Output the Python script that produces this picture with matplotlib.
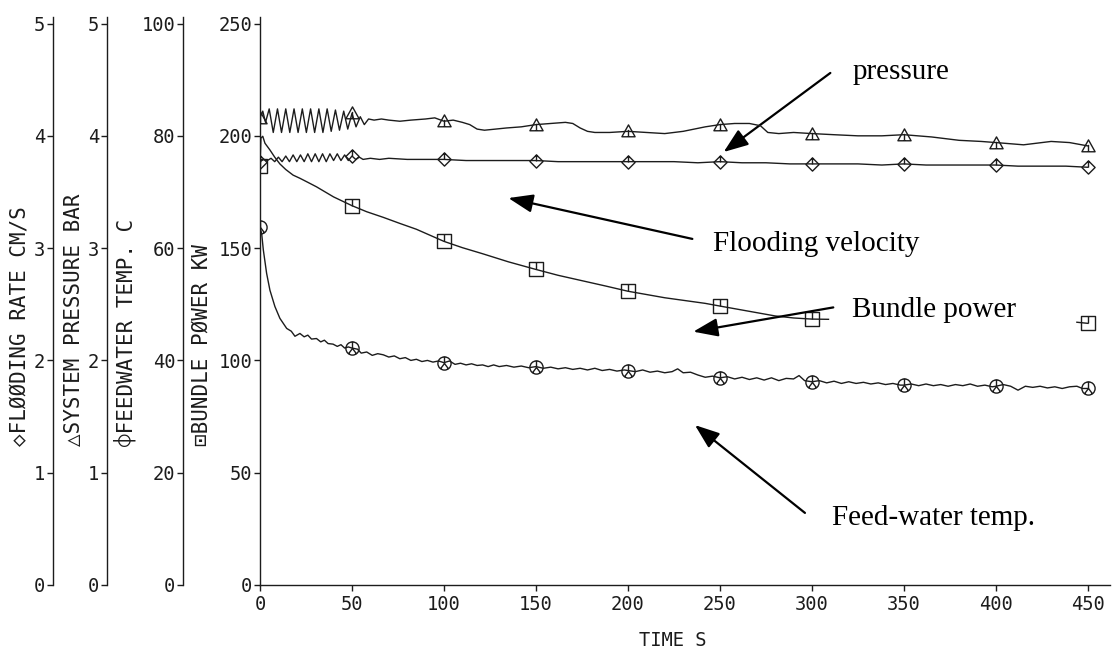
import numpy as np
import matplotlib
matplotlib.use("Agg")
import matplotlib.pyplot as plt
from matplotlib.path import Path

# ---------------- data ----------------
time_ticks = [0, 50, 100, 150, 200, 250, 300, 350, 400, 450]
power_ticks = [0, 50, 100, 150, 200, 250]
temp_ticks = [0, 20, 40, 60, 80, 100]
pressure_ticks = [0, 1, 2, 3, 4, 5]
flood_ticks = [0, 1, 2, 3, 4, 5]

# system pressure, bar
press_t = [0, 1.5, 3, 5, 7.2, 9.5, 11.7, 14, 16.2, 18.5,
           20.7, 23, 25.2, 27.5, 29.7, 32, 34.2, 36.5, 38.7, 41,
           43.2, 45.5, 47.7, 50, 52.2, 54.5, 56.7, 59, 62, 66,
           70, 76, 82, 90, 95, 100, 105, 110, 114, 118,
           122, 128, 134, 142, 150, 158, 166, 170, 174, 178,
           182, 190, 200, 210, 220, 230, 242, 250, 258, 266,
           272, 276, 282, 290, 300, 312, 325, 338, 350, 365,
           380, 392, 400, 415, 430, 440, 450]
press_bar = [4.16, 4.22, 4.12, 4.24, 4.03, 4.24, 4.03, 4.24, 4.03, 4.24,
             4.03, 4.24, 4.03, 4.24, 4.03, 4.24, 4.03, 4.24, 4.04, 4.23,
             4.05, 4.22, 4.06, 4.20, 4.08, 4.17, 4.10, 4.15, 4.14, 4.15,
             4.14, 4.13, 4.14, 4.15, 4.16, 4.13, 4.14, 4.12, 4.10, 4.06,
             4.05, 4.06, 4.07, 4.08, 4.10, 4.11, 4.12, 4.11, 4.07, 4.04,
             4.03, 4.03, 4.04, 4.03, 4.02, 4.04, 4.08, 4.10, 4.11, 4.11,
             4.09, 4.03, 4.02, 4.03, 4.02, 4.01, 4.00, 4.00, 4.01, 3.99,
             3.96, 3.95, 3.94, 3.92, 3.95, 3.94, 3.91]

# flooding rate, cm/s
flood_t = [0, 2, 4, 6, 8, 10, 12, 14, 16, 18,
           20, 22, 24, 26, 28, 30, 32, 34, 36, 38,
           40, 42, 44, 46, 48, 50, 52, 54, 56,
           60, 65, 70, 80, 90, 100,
           112, 125, 138, 150, 162, 175, 188, 200, 212, 225,
           238, 250, 262, 275, 288, 300, 312, 325, 338, 350,
           362, 375, 388, 400, 412, 425, 438, 450]
flood_cms = [3.77, 3.79, 3.78, 3.80, 3.77, 3.81, 3.77, 3.82, 3.77, 3.83,
             3.77, 3.83, 3.77, 3.84, 3.77, 3.84, 3.77, 3.84, 3.77, 3.84,
             3.78, 3.84, 3.78, 3.83, 3.78, 3.82, 3.79, 3.81, 3.79,
             3.80, 3.79, 3.80, 3.79, 3.79, 3.79,
             3.78, 3.78, 3.78, 3.78, 3.77, 3.77, 3.77, 3.77, 3.77, 3.77,
             3.76, 3.77, 3.76, 3.76, 3.75, 3.75, 3.75, 3.75, 3.74, 3.75,
             3.74, 3.74, 3.74, 3.74, 3.73, 3.73, 3.73, 3.72]

# feedwater temperature, C
temp_t = [0, 0.9, 1.8, 3.6, 5.4, 8.1, 10.8, 14.5, 17, 19,
          21.7, 24, 26, 28, 30.7, 33, 35, 37, 39.7, 42,
          44, 46, 48, 50, 53, 55, 58, 61, 64, 67,
          70, 73, 76, 79, 82, 85, 88, 91, 94, 97,
          100, 103, 106, 109, 112, 115, 118, 121, 124, 127,
          130, 134, 138, 142, 146, 150, 154, 158, 162, 166,
          170, 174, 178, 182, 186, 190, 194, 198, 200, 204,
          208, 212, 216, 220, 224, 227, 230, 234, 238, 242,
          246, 250, 254, 258, 262, 266, 270, 274, 278, 282,
          286, 290, 293, 296, 300, 304, 308, 312, 316, 320,
          324, 328, 332, 336, 340, 344, 348, 350, 354, 358,
          362, 366, 370, 374, 378, 382, 386, 390, 394, 398,
          400, 404, 408, 412, 416, 420, 424, 428, 432, 436,
          440, 444, 447, 450]
temp_c = [63.7, 62.6, 59.7, 55.5, 52.5, 49.6, 47.5, 45.7, 45.2, 44.3,
          44.8, 44.2, 44.5, 43.8, 43.9, 43.3, 43.6, 43.0, 42.9, 42.5,
          42.8, 42.2, 42.4, 42.2, 42.0, 41.3, 41.5, 40.9, 41.2, 41.0,
          40.6, 40.8, 40.3, 40.5, 40.0, 40.2, 39.8, 40.0, 39.7, 39.9,
          39.6, 39.9, 39.3, 39.5, 39.2, 39.4, 39.1, 39.2, 38.9, 39.2,
          38.9, 39.1, 38.8, 39.0, 38.7, 38.9, 38.6, 38.8, 38.5, 38.7,
          38.4, 38.6, 38.3, 38.6, 38.2, 38.4, 38.1, 38.3, 38.2, 38.0,
          38.3, 37.9, 38.1, 37.8, 38.0, 38.5, 37.8, 37.9, 37.4, 37.0,
          37.2, 36.9, 37.1, 36.7, 37.0, 36.6, 36.9, 36.5, 36.9, 36.4,
          36.8, 36.7, 37.3, 36.4, 36.2, 36.4, 36.0, 36.3, 35.9, 36.2,
          35.9, 36.1, 35.8, 36.0, 35.7, 35.9, 35.6, 35.6, 35.8, 35.5,
          35.8, 35.5, 35.7, 35.4, 35.7, 35.5, 35.8, 35.4, 35.6, 35.3,
          35.4, 35.7, 35.4, 34.7, 35.4, 35.2, 35.4, 35.1, 35.3, 35.0,
          35.3, 35.4, 35.0, 35.0]

# bundle power, kW (trace interrupted after ~310 s)
power_t = [0, 0.5, 1.5, 2.7, 5.4, 8, 10.8, 14, 18, 21.7,
           26, 30.7, 40, 50, 58, 67, 76, 85, 100, 110,
           121, 135, 150, 162, 175, 188, 200, 220, 242, 250,
           265, 280, 290, 300, 309, 320, 444, 450]
power_kw = [186.6, 199.0, 199.8, 196.7, 193.7, 190.5, 187.5, 185.0, 182.5, 181.1,
            179.3, 177.3, 172.8, 168.9, 166.2, 163.7, 161.0, 158.4, 153.0, 150.2,
            147.5, 143.9, 140.5, 137.9, 135.5, 133.1, 130.8, 127.9, 125.4, 124.2,
            122.0, 119.8, 118.9, 118.4, 118.3, np.nan, 117.0, 116.5]

# ---------------- styling ----------------
W, H = 1112, 654
MONO = ["DejaVu Sans Mono", "DejaVu Sans"]
SERIF = ["Liberation Serif", "DejaVu Serif"]
INK = "#1c1c1c"
TICK_FS = 13.5
LABEL_FS = 15

M, L, C = Path.MOVETO, Path.LINETO, Path.CLOSEPOLY
mk_square = Path([(-1, -1), (1, -1), (1, 1), (-1, 1), (-1, -1), (0, 1), (0, 0)],
                 [M, L, L, L, C, M, L])
mk_triangle = Path([(-1, -0.8), (1, -0.8), (0, 1), (-1, -0.8), (0, 0.25), (0, -0.8)],
                   [M, L, L, C, M, L])
mk_diamond = Path([(0, -1), (1, 0), (0, 1), (-1, 0), (0, -1), (0, 1), (0, 0)],
                  [M, L, L, L, C, M, L])
mk_circle = Path.make_compound_path(
    Path.unit_circle(),
    Path([(0, 1), (0, 0), (-0.6, -0.8), (0, 0), (0.6, -0.8)], [M, L, M, L, L]))


def mark_mask(ts):
    return [abs(t % 50) < 1e-9 for t in ts]


fig = plt.figure(figsize=(W / 100, H / 100), dpi=100)
x0, x1 = 260, 1110
y_bottom, y_top = 585, 16.8
ax = fig.add_axes([x0 / W, 1 - y_bottom / H, (x1 - x0) / W, (y_bottom - y_top) / H])
ax.set_xlim(0, 462)
ax.set_ylim(0, 253)
for s in ("top", "right"):
    ax.spines[s].set_visible(False)
for s in ("left", "bottom"):
    ax.spines[s].set_linewidth(1.0)
    ax.spines[s].set_color(INK)
ax.patch.set_visible(False)

ax.set_xticks(time_ticks)
ax.set_yticks(power_ticks)
ax.tick_params(axis="both", direction="out", length=4, width=1, colors=INK, labelsize=TICK_FS)
ax.tick_params(axis="y", pad=1.5)
ax.tick_params(axis="x", pad=3)
for lab in ax.get_xticklabels() + ax.get_yticklabels():
    lab.set_fontfamily(MONO)

# additional left axes
def left_axis(offset_px, ymax, ticks):
    a = ax.twinx()
    a.set_ylim(0, ymax)
    a.set_xlim(ax.get_xlim())
    for s in ("top", "right", "bottom"):
        a.spines[s].set_visible(False)
    a.spines["left"].set_visible(True)
    a.spines["left"].set_position(("axes", (offset_px - x0) / (x1 - x0)))
    a.spines["left"].set_linewidth(1.0)
    a.spines["left"].set_color(INK)
    a.yaxis.set_ticks_position("left")
    a.yaxis.set_label_position("left")
    a.set_yticks(ticks)
    a.tick_params(axis="y", direction="out", length=4, width=1, pad=1.5,
                  colors=INK, labelsize=TICK_FS)
    for lab in a.get_yticklabels():
        lab.set_fontfamily(MONO)
    a.patch.set_visible(False)
    return a

ax_temp = left_axis(183, 253 / 2.5, temp_ticks)
ax_press = left_axis(107, 253 / 50, pressure_ticks)
ax_flood = left_axis(53, 253 / 50, flood_ticks)

line_kw = dict(color=INK, lw=1.0, markersize=9.5, markerfacecolor="none",
               markeredgecolor=INK, markeredgewidth=1.0)
ax.plot(power_t, power_kw, marker=mk_square, markevery=mark_mask(power_t), **line_kw)
ax_temp.plot(temp_t, temp_c, marker=mk_circle, markevery=mark_mask(temp_t), **line_kw)
ax_press.plot(press_t, press_bar, marker=mk_triangle, markevery=mark_mask(press_t), **line_kw)
ax_flood.plot(flood_t, flood_cms, marker=mk_diamond, markevery=mark_mask(flood_t), **line_kw)

# axis titles (plotter style, starting at same height)
y_start = 1 - 446 / H
for xpx, txt in [(20, "◇FLØØDING RATE CM/S"),
                 (74, "△SYSTEM PRESSURE BAR"),
                 (125, "⌽FEEDWATER TEMP. C"),
                 (202, "⊡BUNDLE PØWER KW")]:
    fig.text(xpx / W, y_start, txt, rotation=90, ha="center", va="bottom",
             fontsize=LABEL_FS, family=MONO, color=INK)
fig.text(673 / W, 1 - 640 / H, "TIME S", ha="center", va="center",
         fontsize=TICK_FS, family=MONO, color=INK)

# annotations
arrow_kw = dict(arrowstyle="-|>,head_length=0.75,head_width=0.28", lw=1.6,
                color="black", shrinkA=0, shrinkB=0, mutation_scale=20)
notes = [("pressure", (322, 225.5), (310, 228), (252, 192.8)),
         ("Flooding velocity", (246, 148.5), (235, 154.1), (135, 172.3)),
         ("Bundle power", (321.6, 119.5), (311.6, 123.6), (235.5, 112.8)),
         ("Feed-water temp.", (310.9, 26.7), (296.2, 32.1), (236.4, 71.2))]
for txt, tpos, start, tip in notes:
    ax.text(tpos[0], tpos[1], txt, ha="left", va="baseline", fontsize=21,
            family=SERIF, color="black")
    ax.annotate("", xy=tip, xytext=start, arrowprops=arrow_kw)

fig.savefig("out.png", dpi=100)
